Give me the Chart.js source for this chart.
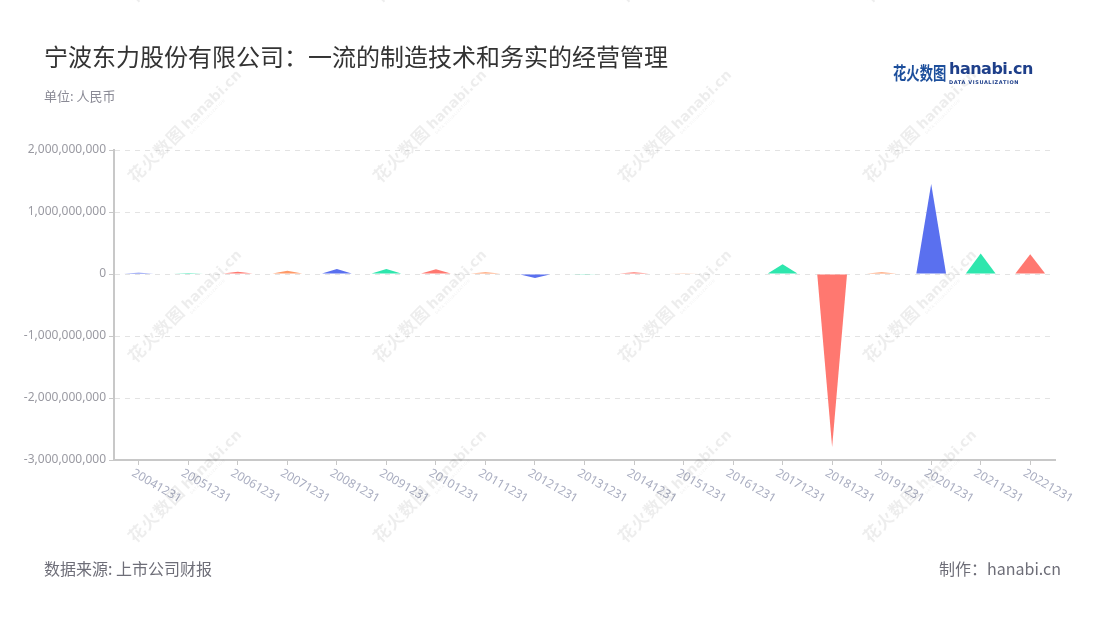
<!DOCTYPE html>
<html>
<head>
<meta charset="utf-8">
<script src="https://cdn.jsdelivr.net/npm/chart.js@4/dist/chart.umd.min.js"></script>
<style>
  html, body { margin: 0; padding: 0; background: #fff; }
  #wrap { position: relative; width: 1100px; height: 620px; overflow: hidden; font-family: "Noto Sans CJK SC", "Noto Sans", sans-serif; }
  #chart { position: absolute; left: 0; top: 0; }
  .txt { position: absolute; white-space: nowrap; }
  .wm { position: absolute; white-space: nowrap; transform: rotate(-45deg); transform-origin: center; color: rgba(0,0,0,0.07); pointer-events: none; }
  .wm b { font-size: 17px; font-weight: 700; letter-spacing: 1px; }
  .wm span { display: inline-block; vertical-align: middle; line-height: 1; margin-left: 3px; }
  .wm i { display: block; font-style: normal; font-size: 14px; font-weight: 700; font-family: "DejaVu Sans", sans-serif; }
  .wm em { display: block; font-style: normal; font-size: 4px; letter-spacing: 0.5px; }
</style>
</head>
<body>
<div id="wrap">
  <canvas id="chart" width="1100" height="620"></canvas>
  <div class="txt" style="left:44px;top:38px;font-size:24px;color:#333;">宁波东力股份有限公司：一流的制造技术和务实的经营管理</div>
  <div class="txt" style="left:44px;top:86px;font-size:13px;color:#8a8a95;">单位: 人民币</div>
  <div class="txt" style="left:893px;top:59px;font-size:18px;font-weight:700;color:#1d4f9c;transform:scaleX(0.74);transform-origin:left center;">花火数图</div>
  <div class="txt" style="left:949px;top:59px;font-size:16px;font-weight:700;color:#1e3f8a;font-family:'DejaVu Sans',sans-serif;letter-spacing:-0.5px;">hanabi.cn</div>
  <div class="txt" style="left:949px;top:79px;font-size:5px;font-weight:700;color:#1e3f8a;letter-spacing:0.6px;font-family:'DejaVu Sans',sans-serif;">DATA VISUALIZATION</div>
  <div class="txt" style="left:44px;top:556px;font-size:16px;color:#6e6e78;">数据来源: 上市公司财报</div>
  <div class="txt" style="right:39px;top:556px;font-size:16px;color:#6e6e78;">制作：hanabi.cn</div>
  <div id="marks"></div>
</div>
<script>
const years = ['20041231', '20051231', '20061231', '20071231', '20081231', '20091231', '20101231',
  '20111231', '20121231', '20131231', '20141231', '20151231', '20161231', '20171231', '20181231',
  '20191231', '20201231', '20211231', '20221231'];
const values = [2.0e7, 1.5e7, 3.8e7, 5.4e7, 8.1e7, 8.0e7, 7.6e7,
  2.7e7, -6.5e7, -5e6, 2.7e7, 1.2e7, 1.0e7, 1.56e8, -2.79e9,
  2.7e7, 1.45e9, 3.3e8, 3.2e8];
const palette = ['#5a70ef', '#2ee6ad', '#ff7870', '#ff9a68'];
const yTicks = [-3e9, -2e9, -1e9, 0, 1e9, 2e9];

// watermarks
const marks = document.getElementById('marks');
[-55, 125, 305, 485].forEach(cy => {
  [183, 428, 673, 918].forEach(cx => {
    const d = document.createElement('div');
    d.className = 'wm';
    d.innerHTML = '<b>花火数图</b><span><i>hanabi.cn</i><em>DATA VISUALIZATION</em></span>';
    d.style.left = (cx - 75) + 'px';
    d.style.top = (cy - 12) + 'px';
    d.style.width = '150px';
    marks.appendChild(d);
  });
});

const triangles = {
  id: 'triangles',
  afterDatasetsDraw(chart) {
    const ctx = chart.ctx;
    chart.getDatasetMeta(0).data.forEach((bar, i) => {
      const { x, y, base, width } = bar.getProps(['x', 'y', 'base', 'width'], true);
      ctx.save();
      ctx.fillStyle = palette[i % palette.length];
      ctx.beginPath();
      ctx.moveTo(x - width / 2, base);
      ctx.lineTo(x, y);
      ctx.lineTo(x + width / 2, base);
      ctx.closePath();
      ctx.fill();
      ctx.restore();
    });
  }
};

const xLabels = {
  id: 'xLabels',
  afterDraw(chart) {
    const ctx = chart.ctx;
    const scale = chart.scales.x;
    ctx.save();
    ctx.fillStyle = '#a9adc0';
    ctx.font = '12px "Noto Sans", sans-serif';
    ctx.textAlign = 'left';
    ctx.textBaseline = 'top';
    years.forEach((label, i) => {
      const px = scale.getPixelForValue(i);
      ctx.save();
      ctx.translate(px - 3, scale.top + 7);
      ctx.rotate(Math.PI / 6);
      ctx.fillText(label, 0, 0);
      ctx.restore();
    });
    ctx.restore();
  }
};

new Chart(document.getElementById('chart'), {
  type: 'bar',
  data: {
    labels: years,
    datasets: [{
      data: values,
      backgroundColor: 'rgba(0,0,0,0)',
      borderWidth: 0,
      barPercentage: 0.6,
      categoryPercentage: 1
    }]
  },
  options: {
    responsive: false,
    animation: false,
    layout: { padding: { left: 0, right: 45, top: 150, bottom: 154 } },
    plugins: { legend: { display: false }, tooltip: { enabled: false } },
    scales: {
      x: {
        afterFit: s => { s.height = 6; },
        ticks: { display: false },
        grid: { display: true, drawOnChartArea: false, offset: false, tickLength: 5, color: '#c8c8c8' },
        border: { display: true, color: '#c8c8c8', width: 2 }
      },
      y: {
        min: yTicks[0],
        max: yTicks[yTicks.length - 1],
        afterFit: s => { s.width = 114; },
        afterBuildTicks: s => { s.ticks = yTicks.map(v => ({ value: v })); },
        ticks: {
          padding: 3,
          color: '#9a9aa2',
          font: { size: 12, family: '"Noto Sans", sans-serif' },
          callback: v => v.toLocaleString('en-US')
        },
        grid: { color: '#e3e3e3', lineWidth: 1, tickLength: 5, tickColor: '#c8c8c8', tickBorderDash: [] },
        border: { display: true, color: '#c8c8c8', width: 2, dash: [5, 5] }
      }
    }
  },
  plugins: [triangles, xLabels]
});
</script>
</body>
</html>
